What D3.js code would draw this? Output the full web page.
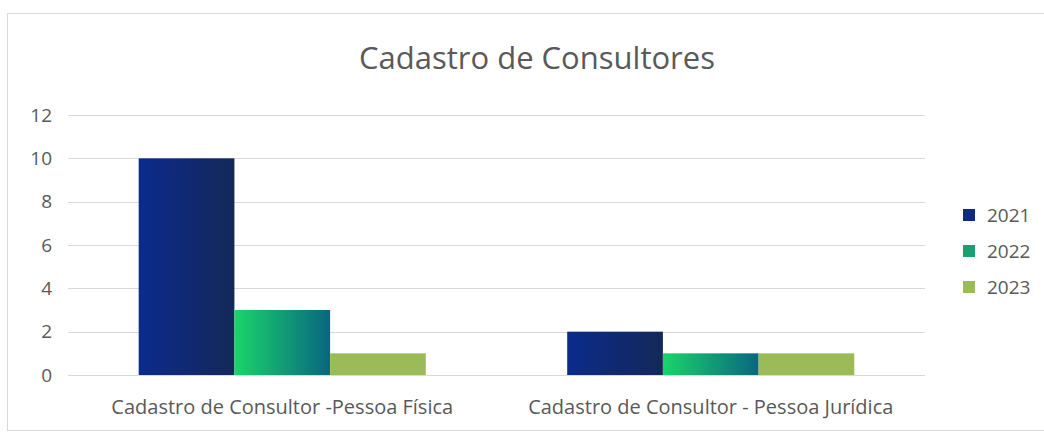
<!DOCTYPE html>
<html>
<head>
<meta charset="utf-8">
<script src="https://cdn.jsdelivr.net/npm/d3@7"></script>
<style>
  html, body { margin: 0; padding: 0; background: #fff; }
  svg { display: block; font-family: "Open Sans", sans-serif; }
</style>
</head>
<body>
<div id="chart"></div>
<script>
// data
const categories = ['Cadastro de Consultor -Pessoa Física', 'Cadastro de Consultor - Pessoa Jurídica'];
const years = ['2021', '2022', '2023'];
const values2021 = [10, 2];
const values2022 = [3, 1];
const values2023 = [1, 1];
const yTicks = [0, 2, 4, 6, 8, 10, 12];

const seriesValues = { '2021': values2021, '2022': values2022, '2023': values2023 };

const width = 1044, height = 432;
const plot = { left: 68, right: 925, top: 115, bottom: 375 };

const svg = d3.select('#chart').append('svg')
  .attr('width', width).attr('height', height);

// gradients like the Excel fills
const defs = svg.append('defs');
const grads = {
  '2021': ['#0b2b8c', '#142858'],
  '2022': ['#1ad46a', '#096680'],
  '2023': ['#9bbb59', '#9bbb59']
};
years.forEach(y => {
  const lg = defs.append('linearGradient').attr('id', 'g' + y)
    .attr('x1', '0%').attr('x2', '100%').attr('y1', '0%').attr('y2', '0%');
  lg.append('stop').attr('offset', '0%').attr('stop-color', grads[y][0]);
  lg.append('stop').attr('offset', '100%').attr('stop-color', grads[y][1]);
});
const legendColor = { '2021': '#0e2a7c', '2022': '#16a170', '2023': '#9bbb59' };

// chart border
svg.append('rect')
  .attr('x', 7.5).attr('y', 13.5).attr('width', 1100).attr('height', 417)
  .attr('fill', 'none').attr('stroke', '#d9d9d9');

// title
svg.append('text')
  .attr('x', 537).attr('y', 69)
  .attr('text-anchor', 'middle')
  .attr('font-size', 31).attr('fill', '#595959')
  .text('Cadastro de Consultores');

const x0 = d3.scaleBand().domain(categories)
  .range([plot.left, plot.right]).paddingInner(0.33).paddingOuter(0.165);
const x1 = d3.scaleBand().domain(years).range([0, x0.bandwidth()]);
const y = d3.scaleLinear().domain([0, 12]).range([plot.bottom, plot.top]);

// gridlines
svg.append('g').selectAll('line').data(yTicks).join('line')
  .attr('x1', plot.left).attr('x2', plot.right)
  .attr('y1', d => Math.round(y(d)) + 0.5).attr('y2', d => Math.round(y(d)) + 0.5)
  .attr('stroke', '#d9d9d9').attr('stroke-width', 1);

// y tick labels
svg.append('g').selectAll('text').data(yTicks).join('text')
  .attr('x', 52).attr('y', d => y(d))
  .attr('dy', '0.35em').attr('text-anchor', 'end')
  .attr('font-size', 19).attr('fill', '#595959')
  .text(d => d);

// bars
const groups = svg.append('g').selectAll('g').data(categories).join('g')
  .attr('transform', d => `translate(${x0(d)},0)`);
groups.selectAll('rect')
  .data((c, i) => years.map(yr => ({ yr, v: seriesValues[yr][i] })))
  .join('rect')
  .attr('x', d => x1(d.yr))
  .attr('width', x1.bandwidth())
  .attr('y', d => y(d.v))
  .attr('height', d => y(0) - y(d.v))
  .attr('fill', d => `url(#g${d.yr})`);

// category labels
svg.append('g').selectAll('text').data(categories).join('text')
  .attr('x', d => x0(d) + x0.bandwidth() / 2).attr('y', 414)
  .attr('text-anchor', 'middle')
  .attr('font-size', 20).attr('fill', '#595959')
  .text(d => d);

// legend
const legend = svg.append('g').selectAll('g').data(years).join('g')
  .attr('transform', (d, i) => `translate(963,${215 + i * 36})`);
legend.append('rect').attr('x', 0).attr('y', -6).attr('width', 12).attr('height', 12)
  .attr('fill', d => legendColor[d]);
legend.append('text').attr('x', 24).attr('dy', '0.35em')
  .attr('font-size', 19).attr('fill', '#595959')
  .text(d => d);
</script>
</body>
</html>
